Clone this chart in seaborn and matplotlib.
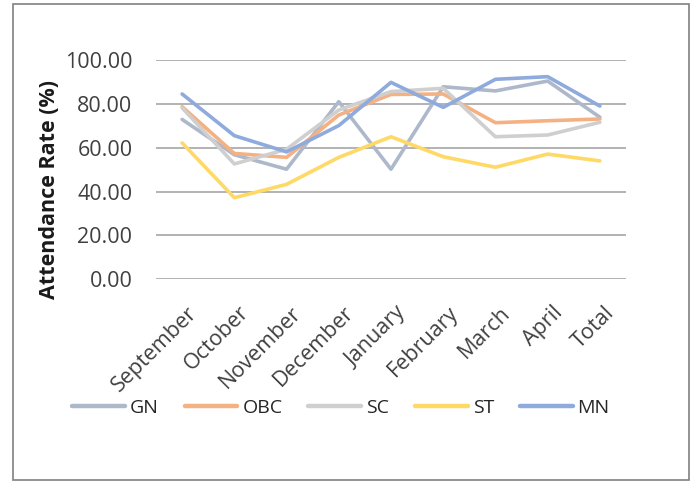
import matplotlib
matplotlib.use("Agg")
import matplotlib.pyplot as plt
import matplotlib.transforms as mtransforms
from matplotlib.patches import Rectangle
import seaborn as sns
import pandas as pd

months = ["September", "October", "November", "December", "January",
          "February", "March", "April", "Total"]
groups = ["GN", "OBC", "SC", "ST", "MN"]

gn = [72.9, 56.8, 50.2, 81.0, 50.2, 87.8, 85.9, 90.4, 73.9]
obc = [78.7, 57.4, 55.6, 74.9, 84.3, 84.5, 71.4, 72.3, 73.1]
sc = [78.2, 52.6, 59.3, 77.2, 85.6, 87.1, 65.0, 65.8, 71.6]
st = [62.2, 37.2, 43.3, 55.6, 65.0, 55.9, 51.1, 57.1, 54.0]
mn = [84.5, 65.5, 58.1, 70.1, 89.8, 78.4, 91.2, 92.4, 79.0]

colors = ["#ADB9CA", "#F4B183", "#CFCFCF", "#FFD966", "#8FAADC"]
yticks = [0, 20, 40, 60, 80, 100]

df = pd.DataFrame({
    "Month": months * len(groups),
    "Group": [g for g in groups for _ in months],
    "Rate": gn + obc + sc + st + mn,
})

sns.set_theme(style="white")
plt.rcParams["font.family"] = ["Open Sans", "DejaVu Sans"]

W, H = 695, 482
fig = plt.figure(figsize=(W / 100, H / 100), dpi=100)
ax = fig.add_axes([156 / W, 1 - 279.3 / H, 470 / W, 219.3 / H])

sns.lineplot(data=df, x="Month", y="Rate", hue="Group", hue_order=groups,
             palette=colors, sort=False, linewidth=2.6, ax=ax, legend=True,
             clip_on=False)

ax.set_xlim(-0.5, len(months) - 0.5)
ax.set_ylim(0, 100)
ax.set_yticks(yticks)
ax.set_yticklabels([f"{v:.2f}" for v in yticks])
ax.yaxis.grid(True, color="#A6A6A6", linewidth=1.2)
ax.set_axisbelow(True)
for s in ax.spines.values():
    s.set_visible(False)
ax.tick_params(axis="both", length=0, colors="#404040")
ax.tick_params(axis="y", labelsize=15.5, pad=17)
ax.tick_params(axis="x", labelsize=15.5, pad=16.5)
shift = mtransforms.ScaledTranslation(3 / 72, 0, fig.dpi_scale_trans)
for lbl in ax.get_xticklabels():
    lbl.set_rotation(45)
    lbl.set_ha("right")
    lbl.set_va("top")
    lbl.set_rotation_mode("anchor")
    lbl.set_transform(lbl.get_transform() + shift)
ax.set_xlabel("")
ax.set_ylabel("Attendance Rate (%)", fontsize=15.5, fontweight="bold",
              color="#1a1a1a")
ax.yaxis.set_label_coords(-0.205, 0.41)

# Move the legend out of the axes and below the month labels
handles, labels = ax.get_legend_handles_labels()
ax.get_legend().remove()
leg = fig.legend(handles, labels, loc="center",
                 bbox_to_anchor=(341 / W, 1 - 408 / H),
                 ncol=5, frameon=False, fontsize=14, handlelength=2.7,
                 handletextpad=0.26, columnspacing=1.34)
for h in leg.legend_handles:
    h.set_linewidth(3.2)
for t in leg.get_texts():
    t.set_color("#262626")

fig.patches.append(Rectangle((13.5 / W, 1 - 480 / H), (689 - 13.5) / W,
                             (480 - 3.5) / H, transform=fig.transFigure,
                             fill=False, edgecolor="#808080", linewidth=1.2))

fig.savefig("out.png", dpi=100)
